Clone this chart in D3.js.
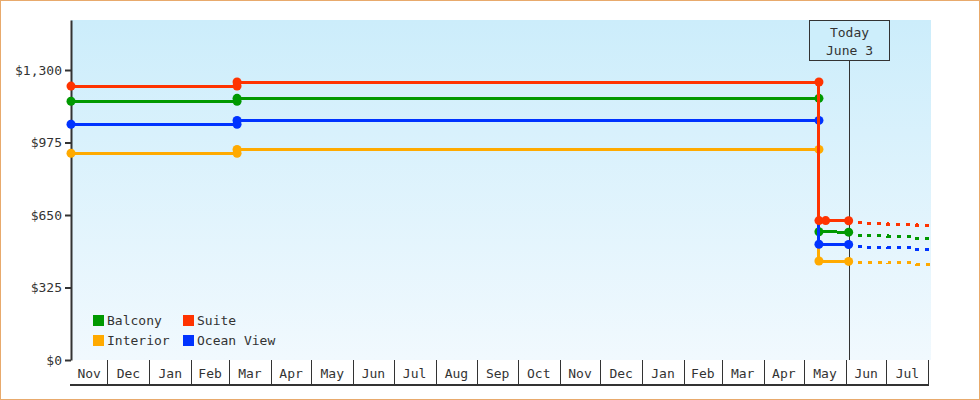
<!DOCTYPE html>
<html>
<head>
<meta charset="utf-8">
<script src="https://cdn.jsdelivr.net/npm/d3@7"></script>
<style>
  body { margin: 0; background: #fff; }
  text { font-family: "DejaVu Sans Mono", monospace; font-size: 13px; fill: #333; }
</style>
</head>
<body>
<div id="chart"></div>
<script>
// Data
const seriesNames = ["Balcony", "Interior", "Ocean View", "Suite"];
const seriesColors = ["#009900", "#ffaa00", "#0033ff", "#ff3300"];

// price history, [date, price]
const balconyPrices = [["2021-11-04", 1160], ["2022-03-07", 1160], ["2022-03-07", 1173], ["2023-05-12", 1173], ["2023-05-12", 575], ["2023-06-03", 573]];
const interiorPrices = [["2021-11-04", 927], ["2022-03-07", 927], ["2022-03-07", 944], ["2023-05-12", 944], ["2023-05-12", 444], ["2023-06-03", 442]];
const oceanViewPrices = [["2021-11-04", 1057], ["2022-03-07", 1057], ["2022-03-07", 1074], ["2023-05-12", 1074], ["2023-05-12", 519], ["2023-06-03", 518]];
const suitePrices = [["2021-11-04", 1228], ["2022-03-07", 1228], ["2022-03-07", 1246], ["2023-05-12", 1246], ["2023-05-12", 625], ["2023-05-17", 625], ["2023-06-03", 624]];

// forecast (dotted)
const forecastDates = ["2023-06-10", "2023-06-16", "2023-07-02", "2023-07-23", "2023-08-03"];
const balconyForecast = [560, 556, 553, 546, 546];
const interiorForecast = [439, 437, 435, 429, 429];
const oceanViewForecast = [510, 506, 504, 497, 497];
const suiteForecast = [617, 612, 608, 605, 605];

const priceTicks = [0, 325, 650, 975, 1300];
const todayDate = "2023-06-03";
const todayLabel = ["Today", "June 3"];
const domainStart = "2021-11-04", domainEnd = "2023-08-03", lastMonthEnd = "2023-08-01";

const history = [balconyPrices, interiorPrices, oceanViewPrices, suitePrices];
const forecast = [balconyForecast, interiorForecast, oceanViewForecast, suiteForecast];

let width = 980, height = 400;
let margin = {top: 20, bottom: 40, left: 71, right: 49};
let bandH = 25;

const parse = d3.timeParse("%Y-%m-%d");

let svg = d3.select('#chart')
  .append('svg')
  .attr('width', width)
  .attr('height', height);

// outer frame
svg.append('rect')
  .attr('x', 0.5).attr('y', 0.5)
  .attr('width', width - 1).attr('height', height - 1)
  .attr('fill', '#fff')
  .attr('stroke', '#e8aa6c');

// scales
let x = d3.scaleTime()
  .domain([parse(domainStart), parse(domainEnd)])
  .range([margin.left, width - margin.right]);

let y = d3.scaleLinear()
  .domain([0, 1300 * 340 / 290])
  .range([height - margin.bottom, margin.top]);

// plot background gradient
let grad = svg.append('defs').append('linearGradient')
  .attr('id', 'bg').attr('x1', 0).attr('y1', 0).attr('x2', 0).attr('y2', 1);
grad.append('stop').attr('offset', '0%').attr('stop-color', '#ccedfb');
grad.append('stop').attr('offset', '100%').attr('stop-color', '#f1f9fe');

svg.append('rect')
  .attr('x', margin.left)
  .attr('y', margin.top)
  .attr('width', width - margin.right - margin.left)
  .attr('height', height - margin.bottom - margin.top)
  .attr('fill', 'url(#bg)');

// month band axis
let bottom = height - margin.bottom;
let months = d3.timeMonth.range(d3.timeMonth.floor(parse(domainStart)), parse(lastMonthEnd));
let monthG = svg.append('g').attr('shape-rendering', 'crispEdges');
months.forEach(m => {
  let x0 = x(d3.max([m, parse(domainStart)]));
  let x1 = x(d3.timeMonth.offset(m, 1));
  monthG.append('line')
    .attr('x1', Math.round(x1) + 0.5).attr('x2', Math.round(x1) + 0.5)
    .attr('y1', bottom).attr('y2', bottom + bandH)
    .attr('stroke', '#333');
  monthG.append('text')
    .attr('x', (x0 + x1) / 2)
    .attr('y', bottom + 18)
    .attr('text-anchor', 'middle')
    .text(d3.timeFormat("%b")(m));
});
monthG.append('line')
  .attr('x1', margin.left - 1).attr('x2', Math.round(x(parse(lastMonthEnd))) + 1)
  .attr('y1', bottom + bandH).attr('y2', bottom + bandH)
  .attr('stroke', '#333').attr('stroke-width', 1.5);

// y axis
let yAxis = svg.append('g')
  .attr('transform', `translate(${margin.left}, 0)`)
  .call(d3.axisLeft(y).tickValues(priceTicks).tickFormat(d3.format("$,")).tickSize(6).tickSizeOuter(0).tickPadding(3));
yAxis.select('.domain').attr('stroke', '#333').attr('stroke-width', 2);
yAxis.selectAll('.tick line').attr('stroke', '#333').attr('stroke-width', 2);
yAxis.selectAll('.tick text').style('fill', '#333');
yAxis.attr('font-family', null).attr('font-size', null);

// today marker
let tx = Math.round(x(parse(todayDate))) + 0.5;
svg.append('line')
  .attr('x1', tx).attr('x2', tx)
  .attr('y1', 60).attr('y2', bottom)
  .attr('stroke', '#333');
svg.append('rect')
  .attr('x', tx - 40).attr('y', 20.5)
  .attr('width', 80).attr('height', 40)
  .attr('fill', '#cdeefb')
  .attr('stroke', '#333');
todayLabel.forEach((t, i) => {
  svg.append('text')
    .attr('x', tx).attr('y', 37 + i * 18)
    .attr('text-anchor', 'middle')
    .text(t);
});

// lines
let line = d3.line()
  .x(d => x(parse(d[0])))
  .y(d => y(d[1]));

let stepLine = d3.line()
  .x(d => x(parse(d[0])))
  .y(d => y(d[1]))
  .curve(d3.curveStepAfter);

history.forEach((data, i) => {
  let fdata = forecastDates.map((dt, j) => [dt, forecast[i][j]]);
  svg.append('path')
    .datum(fdata)
    .attr('d', stepLine)
    .attr('fill', 'none')
    .attr('stroke', seriesColors[i])
    .attr('stroke-width', 3)
    .attr('stroke-dasharray', '4,6')
    .attr('shape-rendering', 'crispEdges');
});

history.forEach((data, i) => {
  svg.append('path')
    .datum(data)
    .attr('d', line)
    .attr('fill', 'none')
    .attr('stroke', seriesColors[i])
    .attr('stroke-width', 3)
    .attr('shape-rendering', 'crispEdges');
  svg.selectAll(null)
    .data(data)
    .enter()
    .append('circle')
    .attr('cx', d => x(parse(d[0])))
    .attr('cy', d => y(d[1]))
    .attr('r', 4.5)
    .attr('fill', seriesColors[i]);
});

// legend
const legendOrder = ["Balcony", "Suite", "Interior", "Ocean View"];
let legend = svg.append('g').attr('transform', 'translate(93, 315)');
legendOrder.forEach((name, i) => {
  let lx = (i % 2) * 90, ly = Math.floor(i / 2) * 20;
  legend.append('rect')
    .attr('x', lx).attr('y', ly)
    .attr('width', 11).attr('height', 11)
    .attr('fill', seriesColors[seriesNames.indexOf(name)]);
  legend.append('text')
    .attr('x', lx + 14).attr('y', ly + 10)
    .text(name);
});
</script>
</body>
</html>
